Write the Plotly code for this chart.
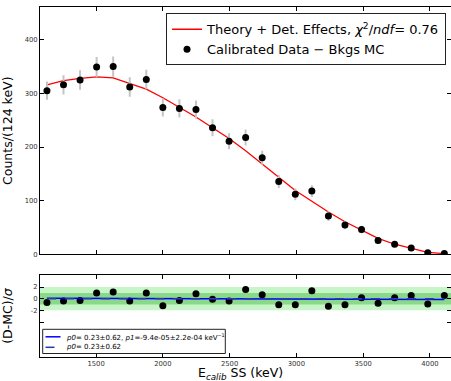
import plotly.graph_objects as go

# ---- data ----
energy = [1132 + 124 * i for i in range(25)]
counts = [305, 316, 325, 349, 350, 312, 326, 274, 272, 270, 236, 211, 218,
          180, 136, 112, 118, 71.5, 55, 46.6, 26, 19, 12, 3, 2]
count_err = [17, 18, 18, 19, 19, 18, 18, 17, 17, 17, 16, 15, 15,
             13, 12, 11, 11, 9, 8, 7, 5, 4.5, 3.5, 2, 1.5]
fit_curve = [316, 324, 328, 331, 329, 318, 308, 292, 274, 256, 236, 216, 193,
             168, 143, 119, 99, 79, 61, 45, 30, 19, 11, 4, 1.5]
residuals = [-0.63, -0.4, -0.29, 0.97, 1.14, -0.4, 0.97, -1.2, -0.29, 0.86,
             -0.11, -0.4, 1.6, 0.69, -1.03, -1.03, 1.37, -1.31, -1.03, 0.17,
             -0.8, 0.17, 0.57, -0.91, 0.57]
lin_fit_x = [1132, 4108]
lin_fit_y = [0.07, -0.12]
const_fit_y = [-0.02, -0.02]
main_yticks = [0, 100, 200, 300, 400]
res_yticks = [-4, -2, 0, 2]
res_yticklabels = ["", "-2", "0", "2"]
x_ticks = [1500, 2000, 2500, 3000, 3500, 4000]
lin_label = "<i>p0</i>= 0.23±0.62, <i>p1</i>=-9.4e-05±2.2e-04 keV<sup>−1</sup>"
const_label = "<i>p0</i>= 0.23±0.62"

XR = [1080, 4158]
FONT = "DejaVu Sans"
W, H = 451, 381
ML, MR, MT, MB = 40, 0, 7, 24
PW, PH = W - ML - MR, H - MT - MB


def px(xp):
    return (xp - ML) / PW


def py(yp):
    return (H - MB - yp) / PH


LIN_COLOR = "#0000ff"
CONST_COLOR = "#2a3aa8"

fig = go.Figure()

# green sigma bands
fig.add_shape(type="rect", xref="x2", yref="y2", x0=XR[0], x1=XR[1], y0=-2, y1=2,
              fillcolor="#c8f5c8", line_width=0, layer="below")
fig.add_shape(type="rect", xref="x2", yref="y2", x0=XR[0], x1=XR[1], y0=-1, y1=1,
              fillcolor="#8ad88a", line_width=0, layer="below")

fig.add_trace(go.Scatter(
    x=energy, y=fit_curve, mode="lines", line=dict(color="#ff0000", width=1.3),
    name="Theory + Det. Effects, <i>χ</i><sup>2</sup>/<i>ndf</i>= 0.76",
    xaxis="x", yaxis="y"))
fig.add_trace(go.Scatter(
    x=energy, y=counts, mode="markers",
    marker=dict(color="black", size=7),
    error_y=dict(type="data", array=count_err, color="#c4c4c4", thickness=2, width=0),
    name="Calibrated Data − Bkgs MC", xaxis="x", yaxis="y"))

fig.add_trace(go.Scatter(
    x=energy, y=residuals, mode="markers", marker=dict(color="black", size=7),
    showlegend=False, xaxis="x2", yaxis="y2"))
fig.add_trace(go.Scatter(
    x=lin_fit_x, y=lin_fit_y, mode="lines", line=dict(color=LIN_COLOR, width=1.5),
    name=lin_label, showlegend=False, xaxis="x2", yaxis="y2"))
fig.add_trace(go.Scatter(
    x=lin_fit_x, y=const_fit_y, mode="lines",
    line=dict(color=CONST_COLOR, width=1.5, dash="dash"),
    name=const_label, showlegend=False, xaxis="x2", yaxis="y2"))

# compact legend for the residual fits (drawn as box + samples + text)
shapes_extra = [
    dict(type="rect", xref="paper", yref="paper", x0=px(42.7), x1=px(225.3),
         y0=py(353.5), y1=py(329.3), fillcolor="white",
         line=dict(color="#222", width=1), layer="above"),
    dict(type="line", xref="paper", yref="paper", x0=px(45.5), x1=px(60.5),
         y0=py(336.8), y1=py(336.8), line=dict(color=LIN_COLOR, width=1.5),
         layer="above"),
    dict(type="line", xref="paper", yref="paper", x0=px(45.5), x1=px(60.5),
         y0=py(347.3), y1=py(347.3), line=dict(color=CONST_COLOR, width=1.5,
                                                dash="dash"), layer="above"),
]
for s in shapes_extra:
    fig.add_shape(**s)

axis_common = dict(showline=True, linecolor="black", linewidth=1, mirror="allticks",
                   ticks="inside", ticklen=4, tickcolor="black", showgrid=False,
                   zeroline=False, tickfont=dict(size=6.8, color="#333", family=FONT))

fig.update_layout(
    width=W, height=H, autosize=False,
    margin=dict(l=ML, r=MR, t=MT, b=MB),
    paper_bgcolor="white", plot_bgcolor="white",
    font=dict(family=FONT, color="black"),
    xaxis=dict(domain=[0, 1], range=XR, tickvals=x_ticks, showticklabels=False,
               anchor="y", matches="x2", **axis_common),
    yaxis=dict(domain=[0.293, 1], range=[0, 461], tickvals=main_yticks,
               title=dict(text="Counts/(124 keV)", font=dict(size=12.5, family=FONT),
                          standoff=9),
               anchor="x", **axis_common),
    xaxis2=dict(domain=[0, 1], range=XR, tickvals=x_ticks, anchor="y2",
                ticklabelstandoff=0, **axis_common),
    yaxis2=dict(domain=[0, 0.234], range=[-10, 4.05], tickvals=res_yticks,
                ticktext=res_yticklabels,
                title=dict(text="(D-MC)/<i>σ</i>", font=dict(size=12.5, family=FONT),
                           standoff=15),
                anchor="x2", **axis_common),
    legend=dict(x=0.3066, y=0.982, xanchor="left", yanchor="top",
                bgcolor="white", bordercolor="#222", borderwidth=1,
                font=dict(size=13, family=FONT), itemwidth=30,
                tracegroupgap=0),
    annotations=[
        dict(text="E<sub><i>calib</i></sub> SS (keV)", xref="paper",
             yref="paper", x=px(240), y=py(373.5),
             xanchor="center", yanchor="middle", showarrow=False,
             font=dict(size=12.5, family=FONT)),
        dict(text=lin_label, xref="paper", yref="paper", x=px(64), y=py(336.8),
             xanchor="left", yanchor="middle", showarrow=False,
             font=dict(size=7, family=FONT)),
        dict(text=const_label, xref="paper", yref="paper", x=px(64), y=py(347.3),
             xanchor="left", yanchor="middle", showarrow=False,
             font=dict(size=7, family=FONT)),
    ],
)

fig.write_html("out.html")
